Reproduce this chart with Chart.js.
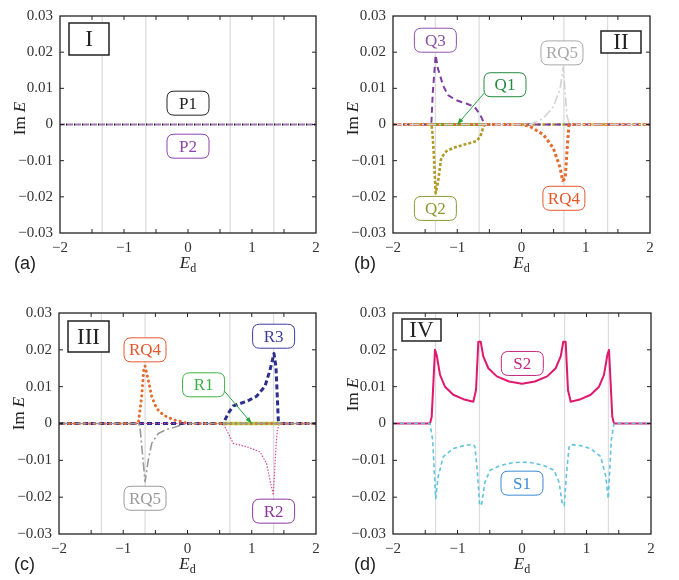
<!DOCTYPE html>
<html>
<head>
<meta charset="utf-8">
<script src="https://cdn.jsdelivr.net/npm/chart.js@4.4.0/dist/chart.umd.min.js"></script>
<style>
  body { margin: 0; background: #fff; width: 679px; height: 580px; position: relative; overflow: hidden; }
  canvas { position: absolute; }
</style>
</head>
<body>
<canvas id="chartA" width="340" height="290" style="left:0;top:0"></canvas>
<canvas id="chartB" width="339" height="290" style="left:340px;top:0"></canvas>
<canvas id="chartC" width="340" height="290" style="left:0;top:290px"></canvas>
<canvas id="chartD" width="339" height="290" style="left:340px;top:290px"></canvas>
<script>
// ---- data ----
const xTicks = [-1.5, -1, -0.5, 0, 0.5, 1, 1.5];
const yTicks = [-0.02, -0.01, 0, 0.01, 0.02];
const guideX = [-1.34, -0.66, 0.66, 1.34];

// panel I
const flatX = [-2, 2];
const flatY = [0, 0];

// panel II
const q1X = [-1.42, -0.57];
const q1Y = [0, 0];
const q2X = [-2, -1.40, -1.385, -1.367, -1.336, -1.30, -1.25, -1.17, -1.066, -0.86, -0.70, -0.64, -0.60, -0.573, 2];
const q2Y = [0, 0, -0.0025, -0.0074, -0.019, -0.016, -0.0092, -0.0074, -0.0065, -0.0054, -0.0046, -0.0033, -0.001, 0, 0];
const q3X = [-2, -1.404, -1.38, -1.336, -1.30, -1.22, -1.144, -1.015, -0.86, -0.73, -0.64, -0.573, 2];
const q3Y = [0, 0, 0.009, 0.0192, 0.0154, 0.0108, 0.0081, 0.0067, 0.0058, 0.0049, 0.0026, 0, 0];
const rq4bX = [-2, 0, 0.13, 0.34, 0.495, 0.6, 0.64, 0.68, 0.715, 0.74, 2];
const rq4bY = [0, 0, -0.0005, -0.0028, -0.0065, -0.0119, -0.0155, -0.015, -0.0055, 0, 0];
const rq5bX = [-2, 0.132, 0.34, 0.495, 0.6, 0.65, 0.705, 0.745, 2];
const rq5bY = [0, 0, 0.0017, 0.0049, 0.0099, 0.0158, 0.0026, 0, 0];

// panel III
const rq4cX = [-2, -0.766, -0.713, -0.677, -0.661, -0.61, -0.557, -0.48, -0.377, -0.22, -0.09, 0, 2];
const rq4cY = [0, 0, 0.0073, 0.0154, 0.0156, 0.0118, 0.0073, 0.0041, 0.0023, 0.001, 0.0005, 0, 0];
const rq5cX = [-2, -0.76, -0.74, -0.697, -0.661, -0.61, -0.557, -0.455, -0.325, -0.2, -0.05, 0, 2];
const rq5cY = [0, 0, -0.0009, -0.009, -0.0158, -0.0099, -0.0054, -0.0027, -0.0016, -0.001, -0.0002, 0, 0];
const r1X = [0.557, 1.44];
const r1Y = [0, 0];
const r2X = [-2, 0.557, 0.635, 0.713, 0.92, 1.13, 1.23, 1.284, 1.336, 1.377, 1.398, 1.43, 2];
const r2Y = [0, 0, -0.0027, -0.0054, -0.0063, -0.0077, -0.0108, -0.0153, -0.0194, -0.0063, -0.0018, 0, 0];
const r3X = [-2, 0.557, 0.635, 0.713, 0.92, 1.076, 1.206, 1.284, 1.346, 1.377, 1.413, 1.44, 2];
const r3Y = [0, 0, 0.0028, 0.0048, 0.006, 0.0074, 0.0101, 0.0145, 0.019, 0.0154, 0.001, 0, 0];

// panel IV
const s2X = [-2, -1.426, -1.40, -1.349, -1.323, -1.271, -1.194, -1.065, -0.91, -0.755, -0.713, -0.677, -0.64, -0.6, -0.522, -0.39, -0.2, 0,
             0.2, 0.39, 0.522, 0.6, 0.64, 0.677, 0.713, 0.755, 0.91, 1.065, 1.194, 1.271, 1.323, 1.349, 1.40, 1.426, 2];
const s2Y = [0, 0, 0.0018, 0.020, 0.0186, 0.0132, 0.010, 0.0078, 0.0066, 0.0059, 0.0091, 0.0222, 0.0222, 0.0182, 0.015, 0.0128, 0.0114, 0.0108,
             0.0114, 0.0128, 0.015, 0.0182, 0.0222, 0.0222, 0.0091, 0.0059, 0.0066, 0.0078, 0.010, 0.0132, 0.0186, 0.020, 0.0018, 0, 0];
const s1X = [-2, -1.426, -1.385, -1.36, -1.338, -1.30, -1.22, -1.065, -0.9, -0.755, -0.729, -0.69, -0.655, -0.625, -0.574, -0.496, -0.34, -0.135, 0,
             0.135, 0.34, 0.496, 0.574, 0.625, 0.655, 0.69, 0.729, 0.755, 0.9, 1.065, 1.22, 1.30, 1.338, 1.36, 1.385, 1.426, 2];
const s1Y = [0, 0, -0.0045, -0.0128, -0.0204, -0.0145, -0.009, -0.0068, -0.006, -0.0057, -0.0064, -0.0136, -0.0223, -0.0218, -0.0159, -0.0127, -0.0114, -0.0106, -0.0105,
             -0.0106, -0.0114, -0.0127, -0.0159, -0.0218, -0.0223, -0.0136, -0.0064, -0.0057, -0.006, -0.0068, -0.009, -0.0145, -0.0204, -0.0128, -0.0045, 0, 0];

// ---- helpers ----
const SERIF = '"Liberation Serif", "DejaVu Serif", serif';
const SANS = '"Liberation Sans", Arial, sans-serif';

function line(xs, ys, style) {
  return Object.assign({
    data: xs.map((x, i) => ({ x: x, y: ys[i] })),
    fill: false, pointRadius: 0, tension: 0, borderJoinStyle: 'round'
  }, style);
}

function minus(s) { return String(s).replace('-', '\u2212'); }

function roundRect(ctx, x, y, w, h, r) {
  ctx.beginPath();
  ctx.moveTo(x + r, y);
  ctx.lineTo(x + w - r, y);
  ctx.quadraticCurveTo(x + w, y, x + w, y + r);
  ctx.lineTo(x + w, y + h - r);
  ctx.quadraticCurveTo(x + w, y + h, x + w - r, y + h);
  ctx.lineTo(x + r, y + h);
  ctx.quadraticCurveTo(x, y + h, x, y + h - r);
  ctx.lineTo(x, y + r);
  ctx.quadraticCurveTo(x, y, x + r, y);
  ctx.closePath();
}

const decor = {
  id: 'decor',
  beforeDatasetsDraw(chart, args, o) {
    const ctx = chart.ctx, a = chart.chartArea, sx = chart.scales.x;
    ctx.save();
    ctx.strokeStyle = '#dddddd';
    ctx.lineWidth = 1.3;
    guideX.forEach(v => {
      const px = sx.getPixelForValue(v);
      ctx.beginPath(); ctx.moveTo(px, a.top); ctx.lineTo(px, a.bottom); ctx.stroke();
    });
    ctx.restore();
  },
  afterDraw(chart, args, o) {
    const ctx = chart.ctx, a = chart.chartArea, sx = chart.scales.x, sy = chart.scales.y;
    ctx.save();

    // arrows
    (o.arrows || []).forEach(ar => {
      const x0 = sx.getPixelForValue(ar.from[0]), y0 = sy.getPixelForValue(ar.from[1]);
      const x1 = sx.getPixelForValue(ar.to[0]), y1 = sy.getPixelForValue(ar.to[1]);
      ctx.strokeStyle = ar.color; ctx.fillStyle = ar.color; ctx.lineWidth = 1;
      ctx.beginPath(); ctx.moveTo(x0, y0); ctx.lineTo(x1, y1); ctx.stroke();
      const ang = Math.atan2(y1 - y0, x1 - x0);
      ctx.beginPath();
      ctx.moveTo(x1, y1);
      ctx.lineTo(x1 - 7 * Math.cos(ang - 0.35), y1 - 7 * Math.sin(ang - 0.35));
      ctx.lineTo(x1 - 7 * Math.cos(ang + 0.35), y1 - 7 * Math.sin(ang + 0.35));
      ctx.closePath(); ctx.fill();
    });

    // frame
    ctx.strokeStyle = '#222'; ctx.lineWidth = 1.3;
    ctx.strokeRect(a.left, a.top, a.right - a.left, a.bottom - a.top);

    // inward ticks on all four sides
    ctx.lineWidth = 1;
    xTicks.forEach(v => {
      const px = sx.getPixelForValue(v);
      ctx.beginPath();
      ctx.moveTo(px, a.bottom); ctx.lineTo(px, a.bottom - 4);
      ctx.moveTo(px, a.top); ctx.lineTo(px, a.top + 4);
      ctx.stroke();
    });
    yTicks.forEach(v => {
      const py = sy.getPixelForValue(v);
      ctx.beginPath();
      ctx.moveTo(a.left, py); ctx.lineTo(a.left + 4, py);
      ctx.moveTo(a.right, py); ctx.lineTo(a.right - 4, py);
      ctx.stroke();
    });

    // labelled boxes
    (o.labels || []).forEach(lb => {
      const cx = sx.getPixelForValue(lb.at[0]), cy = sy.getPixelForValue(lb.at[1]);
      const w = 42, h = 24;
      roundRect(ctx, cx - w / 2, cy - h / 2, w, h, 7);
      ctx.fillStyle = '#fff'; ctx.fill();
      ctx.strokeStyle = lb.color; ctx.lineWidth = 1; ctx.stroke();
      ctx.fillStyle = lb.color;
      ctx.font = '17px ' + SERIF;
      ctx.textAlign = 'center'; ctx.textBaseline = 'middle';
      ctx.fillText(lb.text, cx, cy + 1);
    });

    // roman numeral box
    const rb = o.roman;
    const bx = rb.side === 'left' ? a.left + rb.dx : a.right + rb.dx - rb.w;
    const by = a.top + rb.dy;
    ctx.fillStyle = '#fff';
    ctx.fillRect(bx, by, rb.w, rb.h);
    ctx.strokeStyle = '#222'; ctx.lineWidth = 1.5;
    ctx.strokeRect(bx, by, rb.w, rb.h);
    ctx.fillStyle = '#222';
    ctx.font = '23px ' + SERIF;
    ctx.textAlign = 'center'; ctx.textBaseline = 'middle';
    ctx.fillText(rb.text, bx + rb.w / 2, by + rb.h / 2 + 1);

    // panel letter
    ctx.font = '18px ' + SANS;
    ctx.textAlign = 'left'; ctx.textBaseline = 'alphabetic';
    ctx.fillStyle = '#222';
    ctx.fillText(o.letter, 14, a.bottom + 36);

    // x title: E_d
    const cxT = (a.left + a.right) / 2;
    ctx.font = 'italic 17px ' + SERIF;
    const wE = ctx.measureText('E').width;
    ctx.font = '12px ' + SERIF;
    const wd = ctx.measureText('d').width;
    const startX = cxT - (wE + wd) / 2;
    ctx.font = 'italic 17px ' + SERIF;
    ctx.fillText('E', startX, a.bottom + 35);
    ctx.font = '12px ' + SERIF;
    ctx.fillText('d', startX + wE, a.bottom + 39);

    // y title: Im E
    ctx.translate(a.left - 39, (a.top + a.bottom) / 2 + o.yTitleDy);
    ctx.rotate(-Math.PI / 2);
    ctx.font = '17px ' + SERIF;
    const wIm = ctx.measureText('Im ').width;
    ctx.font = 'italic 17px ' + SERIF;
    const wE2 = ctx.measureText('E').width;
    ctx.textBaseline = 'middle';
    ctx.font = '17px ' + SERIF;
    ctx.fillText('Im ', -(wIm + wE2) / 2, 0);
    ctx.font = 'italic 17px ' + SERIF;
    ctx.fillText('E', -(wIm + wE2) / 2 + wIm, 0);

    ctx.restore();
  }
};

function makeChart(id, cfg) {
  return new Chart(document.getElementById(id), {
    type: 'line',
    data: { datasets: cfg.datasets },
    options: {
      responsive: false,
      animation: false,
      layout: { padding: cfg.pad },
      plugins: {
        legend: { display: false },
        tooltip: { enabled: false },
        decor: cfg.decor
      },
      scales: {
        x: {
          type: 'linear', min: -2, max: 2,
          afterFit: s => { s.height = cfg.xAxisH; },
          grid: { display: false, drawTicks: false }, border: { display: false },
          ticks: {
            stepSize: 1, maxRotation: 0, padding: 6,
            color: '#333', font: { family: SERIF, size: 15 },
            callback: v => minus(Math.round(v))
          }
        },
        y: {
          min: -0.03, max: 0.03,
          afterFit: s => { s.width = cfg.yAxisW; },
          grid: { display: false, drawTicks: false }, border: { display: false },
          ticks: {
            stepSize: 0.01, padding: 7,
            color: '#333', font: { family: SERIF, size: 15 },
            callback: v => {
              const r = Math.round(v * 100);
              return r === 0 ? '0' : minus((r / 100).toFixed(2));
            }
          }
        }
      }
    },
    plugins: [decor]
  });
}

// ---- panel (a) ----
makeChart('chartA', {
  pad: { left: 0, top: 13, right: 24, bottom: 0 }, yAxisW: 60, xAxisH: 57,
  datasets: [
    line(flatX, flatY, { borderColor: '#a070b8', borderWidth: 1.8, borderDash: [5, 3] }),
    line(flatX, flatY, { borderColor: '#111', borderWidth: 2, borderDash: [1.5, 6.5], borderDashOffset: 2 })
  ],
  decor: {
    letter: '(a)', yTitleDy: -6,
    roman: { text: 'I', side: 'left', dx: 9, dy: 7, w: 40, h: 32 },
    labels: [
      { text: 'P1', at: [0, 0.0059], color: '#222' },
      { text: 'P2', at: [0, -0.006], color: '#8e44ad' }
    ]
  }
});

// ---- panel (b) ----
makeChart('chartB', {
  pad: { left: 0, top: 13, right: 29, bottom: 0 }, yAxisW: 53, xAxisH: 57,
  datasets: [
    line(rq5bX, rq5bY, { borderColor: '#d2d2d2', borderWidth: 1.6, borderDash: [9, 3, 2, 3] }),
    line(rq4bX, rq4bY, { borderColor: '#e8692c', borderWidth: 3, borderDash: [3, 2.5] }),
    line(q3X, q3Y, { borderColor: '#7d3f9e', borderWidth: 2, borderDash: [6, 4] }),
    line(q2X, q2Y, { borderColor: '#b39a25', borderWidth: 2.6, borderDash: [3, 2] }),
    line(q1X, q1Y, { borderColor: '#4cb82c', borderWidth: 2.8 })
  ],
  decor: {
    letter: '(b)', yTitleDy: -6,
    roman: { text: 'II', side: 'right', dx: -9, dy: 15, w: 40, h: 22 },
    labels: [
      { text: 'Q3', at: [-1.34, 0.0233], color: '#8c52ab' },
      { text: 'Q2', at: [-1.34, -0.0232], color: '#8a9a33' },
      { text: 'Q1', at: [-0.257, 0.011], color: '#238a3e' },
      { text: 'RQ5', at: [0.63, 0.0198], color: '#a8a8a8' },
      { text: 'RQ4', at: [0.66, -0.0204], color: '#e5572a' }
    ],
    arrows: [{ from: [-0.58, 0.0087], to: [-1.0, 0], color: '#27a23f' }]
  }
});

// ---- panel (c) ----
makeChart('chartC', {
  pad: { left: 0, top: 23, right: 24, bottom: 0 }, yAxisW: 59, xAxisH: 46,
  datasets: [
    line(rq5cX, rq5cY, { borderColor: '#9a9a9a', borderWidth: 1.6, borderDash: [9, 3, 2, 3] }),
    line(rq4cX, rq4cY, { borderColor: '#e8692c', borderWidth: 3, borderDash: [0.1, 5], borderCapStyle: 'round' }),
    line(r1X, r1Y, { borderColor: '#a9d548', borderWidth: 3.5 }),
    line(r2X, r2Y, { borderColor: '#d44a9e', borderWidth: 1.2, borderDash: [1.5, 1.5] }),
    line(r3X, r3Y, { borderColor: '#2e2f8c', borderWidth: 3, borderDash: [5, 3] })
  ],
  decor: {
    letter: '(c)', yTitleDy: -10,
    roman: { text: 'III', side: 'left', dx: 9, dy: 8, w: 41, h: 31 },
    labels: [
      { text: 'RQ4', at: [-0.661, 0.02], color: '#e5572a' },
      { text: 'RQ5', at: [-0.661, -0.0203], color: '#9a9a9a' },
      { text: 'R1', at: [0.25, 0.0105], color: '#3cb043' },
      { text: 'R3', at: [1.34, 0.0237], color: '#3c3d98' },
      { text: 'R2', at: [1.34, -0.0238], color: '#8a3a9a' }
    ],
    arrows: [{ from: [0.57, 0.0089], to: [1.0, 0], color: '#27a23f' }]
  }
});

// ---- panel (d) ----
makeChart('chartD', {
  pad: { left: 0, top: 23, right: 28, bottom: 0 }, yAxisW: 53, xAxisH: 46,
  datasets: [
    line(s1X, s1Y, { borderColor: '#62c3dc', borderWidth: 1.6, borderDash: [4, 3] }),
    line(s2X, s2Y, { borderColor: '#e0186e', borderWidth: 2 })
  ],
  decor: {
    letter: '(d)', yTitleDy: -29,
    roman: { text: 'IV', side: 'left', dx: 9, dy: 6, w: 39, h: 22 },
    labels: [
      { text: 'S2', at: [0.005, 0.0163], color: '#c2287c' },
      { text: 'S1', at: [0, -0.0162], color: '#3a8ad6' }
    ]
  }
});
</script>
</body>
</html>
